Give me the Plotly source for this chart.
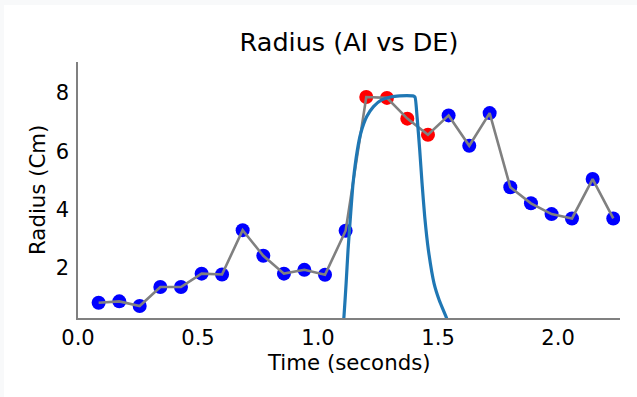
import plotly.graph_objects as go

# ---- data ----
de_time = [0.086, 0.172, 0.257, 0.343, 0.429, 0.515, 0.600, 0.686, 0.772, 0.858,
           0.943, 1.029, 1.115, 1.201, 1.287, 1.372, 1.458, 1.544, 1.630, 1.715,
           1.801, 1.887, 1.973, 2.058, 2.144, 2.230]
de_radius = [0.81, 0.86, 0.70, 1.35, 1.35, 1.81, 1.78, 3.30, 2.42, 1.81,
             1.94, 1.77, 3.28, 7.86, 7.83, 7.12, 6.57, 7.23, 6.19, 7.31,
             4.77, 4.22, 3.85, 3.70, 5.05, 3.70]
de_highlight = [False] * 13 + [True] * 4 + [False] * 9

ai_time = [1.098, 1.108, 1.117, 1.125, 1.135, 1.146, 1.164, 1.178, 1.203, 1.231,
           1.265, 1.307, 1.340, 1.370, 1.395, 1.404, 1.4125, 1.4236, 1.4333, 1.4444,
           1.4597, 1.4833, 1.505, 1.533, 1.56]
ai_radius = [-0.6, 0.34, 1.48, 2.62, 3.76, 4.91, 6.05, 6.62, 7.19, 7.53,
             7.76, 7.87, 7.90, 7.91, 7.90, 7.86, 7.19, 6.05, 4.91, 3.76,
             2.62, 1.48, 0.90, 0.34, -0.3]

x_ticks = [0.0, 0.5, 1.0, 1.5, 2.0]
y_ticks = [2, 4, 6, 8]

title_text = "Radius (AI vs DE)"
x_label = "Time (seconds)"
y_label = "Radius (Cm)"

FONT = "DejaVu Sans"
TICK_SIZE = 21
LABEL_SIZE = 21.3
TITLE_SIZE = 25.5

marker_colors = ["#ff0000" if h else "#0000ff" for h in de_highlight]

fig = go.Figure()
fig.add_trace(go.Scatter(x=de_time, y=de_radius, mode="markers",
                         marker=dict(color=marker_colors, size=14, line=dict(width=0)),
                         showlegend=False))
fig.add_trace(go.Scatter(x=de_time, y=de_radius, mode="lines",
                         line=dict(color="#808080", width=2.6),
                         showlegend=False))
fig.add_trace(go.Scatter(x=ai_time, y=ai_radius, mode="lines",
                         line=dict(color="#1f77b4", width=3.2, shape="spline", smoothing=0.5),
                         showlegend=False))

L, R, T, B = 78, 17, 62, 79
W, H = 637, 397
pw, ph = W - L - R, H - T - B

def px_x(p):
    return (p - L) / pw

def px_y(p):
    return (H - B - p) / ph

fig.update_layout(
    width=W, height=H,
    margin=dict(l=L, r=R, t=T, b=B),
    paper_bgcolor="#f8f9fa",
    plot_bgcolor="white",
    font=dict(family=FONT, size=TICK_SIZE, color="black"),
    title=dict(text=title_text, x=(L + pw / 2) / W, xanchor="center",
               y=1 - 42 / H, yanchor="middle",
               font=dict(size=TITLE_SIZE, family=FONT, color="black")),
    shapes=[dict(type="rect", xref="paper", yref="paper", layer="below",
                 x0=px_x(4), x1=px_x(W + 5), y0=px_y(H + 5), y1=px_y(5),
                 fillcolor="white", line=dict(width=0))],
    annotations=[
        dict(text=x_label, xref="paper", yref="paper", x=0.5, y=px_y(362),
             xanchor="center", yanchor="middle", showarrow=False,
             font=dict(size=LABEL_SIZE, family=FONT, color="black")),
        dict(text=y_label, xref="paper", yref="paper", x=px_x(37), y=0.5,
             xanchor="center", yanchor="middle", showarrow=False, textangle=-90,
             font=dict(size=LABEL_SIZE, family=FONT, color="black")),
    ],
)

fig.update_xaxes(range=[0, 2.258], tickvals=x_ticks, ticktext=[f"{v:.1f}" for v in x_ticks],
                 showgrid=False, zeroline=False, showline=True, linecolor="#808080", linewidth=1.6,
                 ticks="", ticklen=0,
                 tickfont=dict(size=TICK_SIZE, family=FONT, color="black"))
fig.update_yaxes(range=[0.29, 9.06], tickvals=y_ticks, ticktext=[str(v) for v in y_ticks],
                 showgrid=False, zeroline=False, showline=True, linecolor="#808080", linewidth=1.6,
                 ticks="outside", ticklen=3, tickcolor="rgba(0,0,0,0)",
                 tickfont=dict(size=TICK_SIZE, family=FONT, color="black"))

fig.write_html("out.html")
